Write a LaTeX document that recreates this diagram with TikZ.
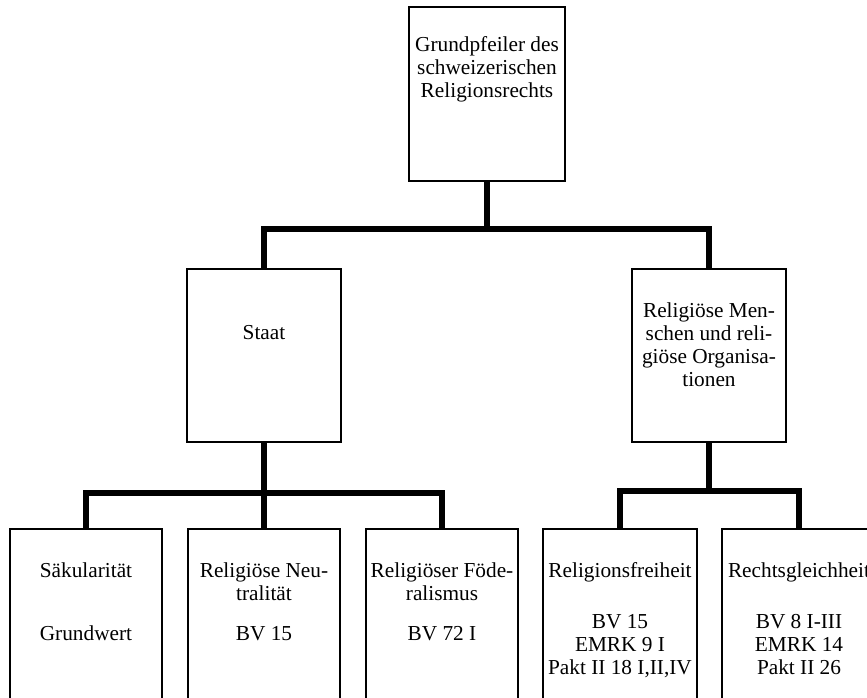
\documentclass[tikz,border=0pt]{standalone}
\usepackage{fontspec}
\setmainfont{Liberation Serif}
\begin{document}
\begin{tikzpicture}[x=1pt,y=-1pt,
  box/.style={draw=black,line width=1.3pt,rectangle,inner sep=0pt,fill=white},
  conn/.style={draw=black,line width=6pt,line join=miter,line cap=butt},
  txt/.style={inner sep=0pt,anchor=base,font=\fontsize{21.3}{23}\selectfont,text=black}]
\useasboundingbox (0,0) rectangle (867,698);
\clip (0,0) rectangle (867,698);
% boxes
\node[box,minimum width=156pt,minimum height=174pt] (top) at (487,94) {};
\node[box,minimum width=154pt,minimum height=173pt] (staat) at (264,355.5) {};
\node[box,minimum width=154pt,minimum height=173pt] (rel) at (709,355.5) {};
\node[box,minimum width=152pt,minimum height=191pt] (b1) at (86,624.5) {};
\node[box,minimum width=152pt,minimum height=191pt] (b2) at (264,624.5) {};
\node[box,minimum width=152pt,minimum height=191pt] (b3) at (442,624.5) {};
\node[box,minimum width=154pt,minimum height=191pt] (b4) at (620,624.5) {};
\node[box,minimum width=154pt,minimum height=191pt] (b5) at (799,624.5) {};
% bus coordinates
\coordinate (bar1) at (487,229);
\coordinate (bar2) at (264,493);
\coordinate (bar3) at (709,491);
% connectors
\draw[conn] (top.south) -- (bar1) -| (staat.north);
\draw[conn] (top.south) -- (bar1) -| (rel.north);
\draw[conn] (staat.south) -- (bar2) -| (b1.north);
\draw[conn] (staat.south) -- (bar2) -- (b2.north);
\draw[conn] (staat.south) -- (bar2) -| (b3.north);
\draw[conn] (rel.south) -- (bar3) -| (b4.north);
\draw[conn] (rel.south) -- (bar3) -| (b5.north);
% texts
\node[txt] (ttop) at (487,52) {\parbox[t]{220pt}{\centering Grundpfeiler des\\schweizerischen\\Religionsrechts}};
\node[txt] (tstaat) at (264,339) {\parbox[t]{220pt}{\centering Staat}};
\node[txt] (trel) at (709,317) {\parbox[t]{220pt}{\centering Religiöse Men-\\schen und reli-\\giöse Organisa-\\tionen}};
\node[txt] (tb1) at (86,577) {\parbox[t]{220pt}{\centering Säkularität\\[40pt]Grundwert}};
\node[txt] (tb2) at (264,577) {\parbox[t]{220pt}{\centering Religiöse Neu-\\tralität\\[17pt]BV 15}};
\node[txt] (tb3) at (442,577) {\parbox[t]{220pt}{\centering Religiöser Föde-\\ralismus\\[17pt]BV 72 I}};
\node[txt] (tb4) at (620,577) {\parbox[t]{220pt}{\centering Religionsfreiheit\\[28pt]BV 15\\EMRK 9 I\\Pakt II 18 I,II,IV}};
\node[txt] (tb5) at (799,577) {\parbox[t]{220pt}{\centering Rechtsgleichheit\\[28pt]BV 8 I-III\\EMRK 14\\Pakt II 26}};
\end{tikzpicture}
\end{document}
